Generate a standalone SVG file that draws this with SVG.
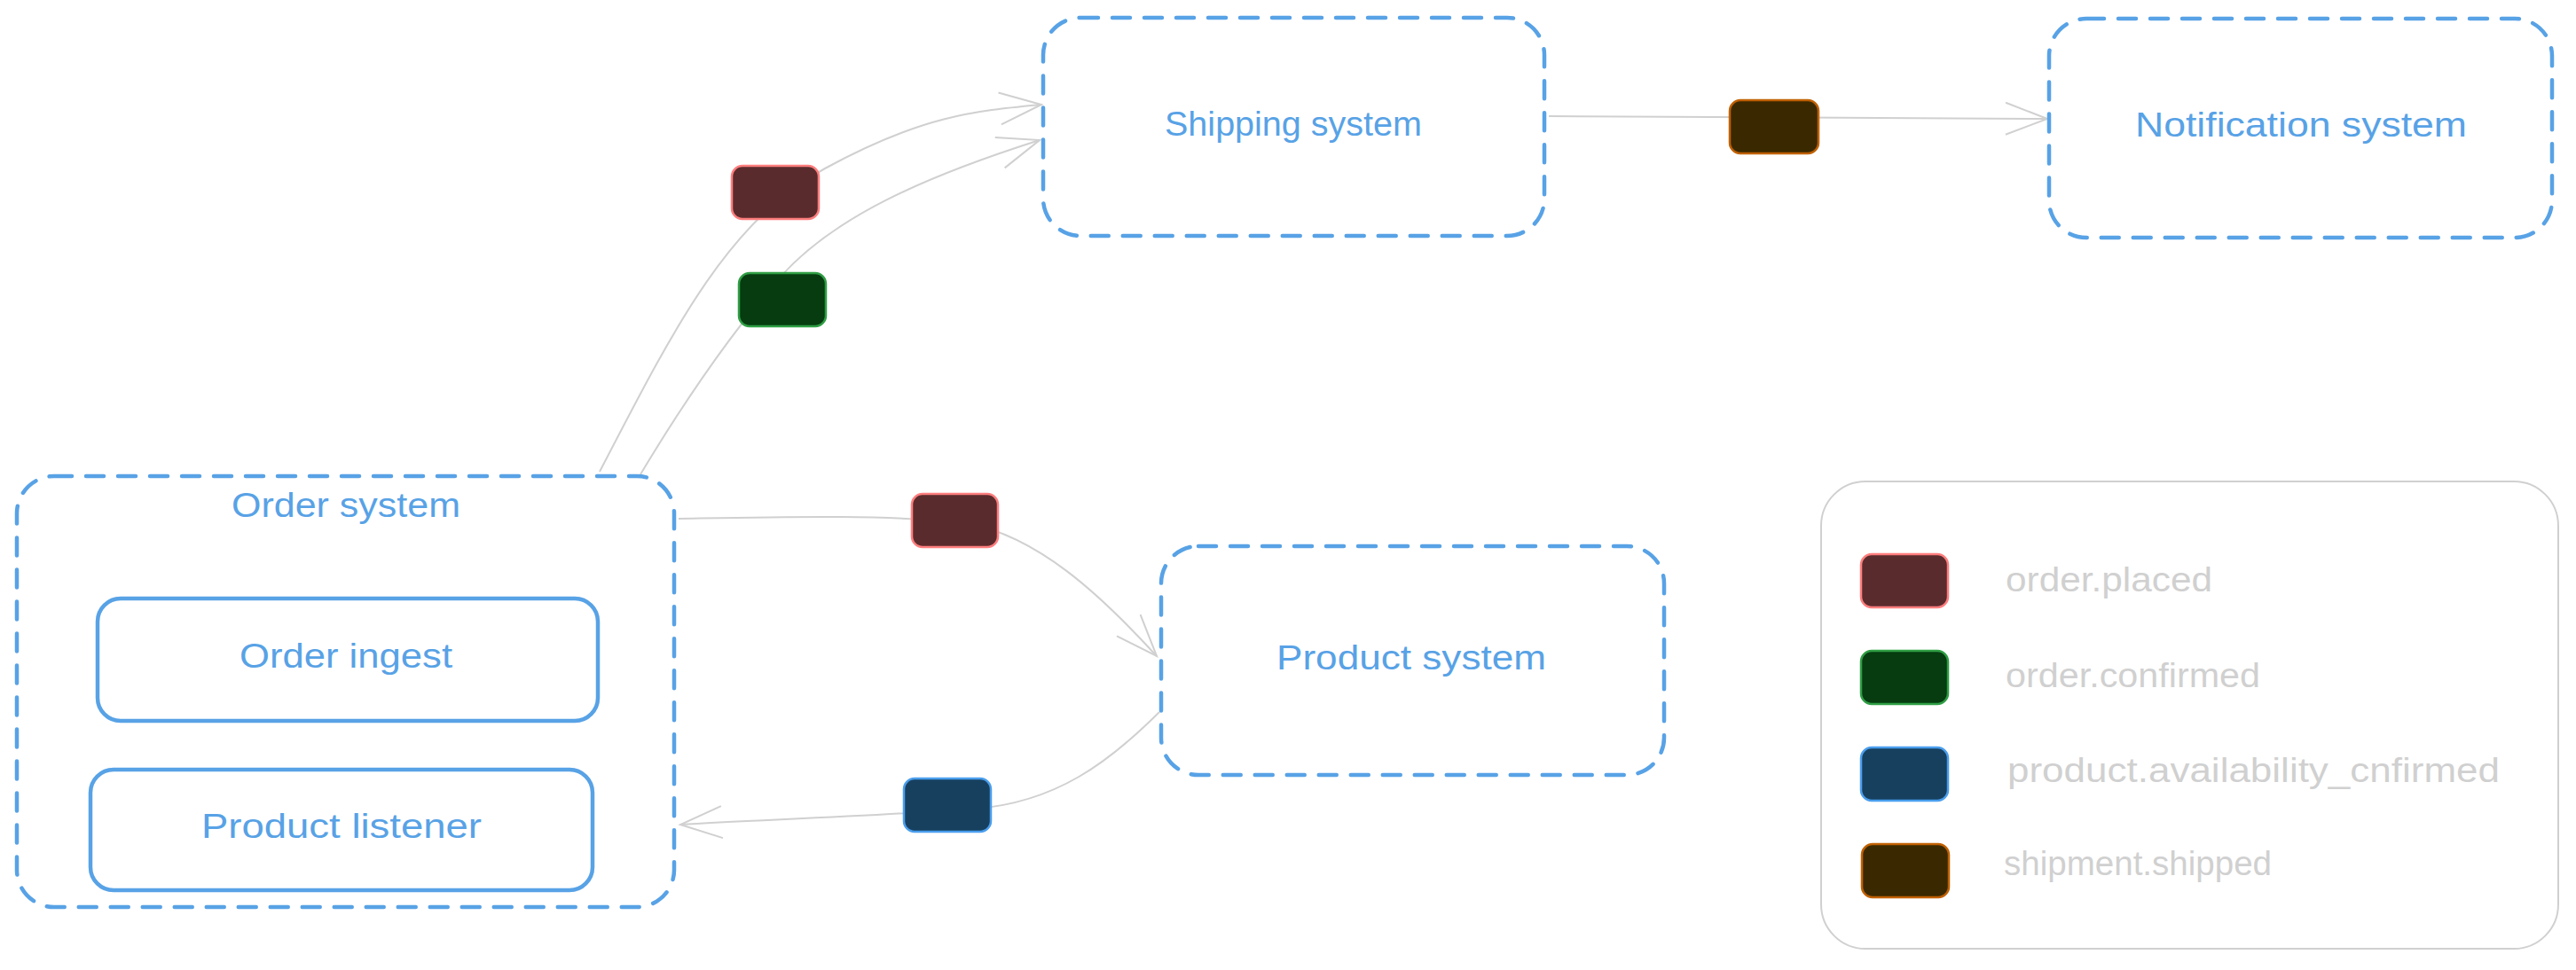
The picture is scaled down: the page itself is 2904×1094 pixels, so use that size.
<svg xmlns="http://www.w3.org/2000/svg" width="2904" height="1094" viewBox="0 0 2904 1094">
<defs>
<style>
.sys{fill:none;stroke:#58a2e6;stroke-width:4.5;stroke-dasharray:20 16;stroke-linecap:round}
.sub{fill:none;stroke:#58a2e6;stroke-width:4.5}
.lbl{font-family:"Liberation Sans",Arial,sans-serif;font-size:38px;fill:#58a2e6;text-anchor:middle}
.leg{font-family:"Liberation Sans",Arial,sans-serif;font-size:38px;fill:#d0d0d0}
.con{fill:none;stroke:#d0d0d0;stroke-width:2;marker-end:url(#arr)}
.placed{fill:#5a2b2c;stroke:#ff7e7e;stroke-width:2.5}
.confirmed{fill:#063c10;stroke:#2f9e44;stroke-width:2.5}
.avail{fill:#17405f;stroke:#4a9eed;stroke-width:2.5}
.shipped{fill:#3a2900;stroke:#c06000;stroke-width:2.5}
</style>
<marker id="arr" markerUnits="userSpaceOnUse" markerWidth="60" markerHeight="50" viewBox="-55 -25 60 50" refX="0" refY="0" orient="auto" overflow="visible">
<path d="M-47,-18 L0,0 L-47,18" fill="none" stroke="#d0d0d0" stroke-width="2"/>
</marker>
</defs>
<rect width="2904" height="1094" fill="#ffffff"/>

<g id="connectors">
<path class="con" d="M676,532 C760,370 820,250 930,190 S1100,125 1174,118"/>
<path class="con" d="M722,535 C770,455 820,380 880,312 C940,245 1040,200 1172,158"/>
<path class="con" d="M765,585 C880,583 1000,580 1090,590 C1170,605 1240,670 1304,740"/>
<path class="con" d="M1307,803 C1250,860 1190,905 1100,912 C1000,920 850,925 767,930"/>
<path class="con" d="M1746,131 L2308,134"/>
</g>

<g id="order-system">
<rect class="sys" x="19" y="537" width="741" height="486" rx="42"/>
<text class="lbl" x="390" y="583" textLength="258" lengthAdjust="spacingAndGlyphs">Order system</text>
</g>
<g id="order-ingest">
<rect class="sub" x="110" y="675" width="564" height="138" rx="26"/>
<text class="lbl" x="390" y="753" textLength="240" lengthAdjust="spacingAndGlyphs">Order ingest</text>
</g>
<g id="product-listener">
<rect class="sub" x="102" y="868" width="566" height="136" rx="26"/>
<text class="lbl" x="385" y="945" textLength="316" lengthAdjust="spacingAndGlyphs">Product listener</text>
</g>
<g id="shipping-system">
<rect class="sys" x="1176" y="20" width="565" height="246" rx="42"/>
<text class="lbl" x="1458" y="153" textLength="290" lengthAdjust="spacingAndGlyphs">Shipping system</text>
</g>
<g id="notification-system">
<rect class="sys" x="2310" y="21" width="567" height="247" rx="42"/>
<text class="lbl" x="2594" y="154" textLength="374" lengthAdjust="spacingAndGlyphs">Notification system</text>
</g>
<g id="product-system">
<rect class="sys" x="1309" y="616" width="567" height="258" rx="42"/>
<text class="lbl" x="1591" y="755" textLength="304" lengthAdjust="spacingAndGlyphs">Product system</text>
</g>

<g id="event-placed-1"><rect class="placed" x="825" y="187" width="98" height="60" rx="12"/></g>
<g id="event-confirmed-1"><rect class="confirmed" x="833" y="308" width="98" height="60" rx="12"/></g>
<g id="event-placed-2"><rect class="placed" x="1028" y="557" width="97" height="60" rx="12"/></g>
<g id="event-avail-1"><rect class="avail" x="1019" y="878" width="98" height="60" rx="12"/></g>
<g id="event-shipped-1"><rect class="shipped" x="1950" y="113" width="100" height="60" rx="12"/></g>

<g id="legend">
<rect x="2053" y="543" width="831" height="527" rx="50" fill="none" stroke="#d0d0d0" stroke-width="2"/>
<rect class="placed" x="2098" y="625" width="98" height="60" rx="12"/>
<text class="leg" x="2261" y="667" textLength="233" lengthAdjust="spacingAndGlyphs">order.placed</text>
<rect class="confirmed" x="2098" y="734" width="98" height="60" rx="12"/>
<text class="leg" x="2261" y="775" textLength="287" lengthAdjust="spacingAndGlyphs">order.confirmed</text>
<rect class="avail" x="2098" y="843" width="98" height="60" rx="12"/>
<text class="leg" x="2263" y="882" textLength="555" lengthAdjust="spacingAndGlyphs">product.availability_cnfirmed</text>
<rect class="shipped" x="2099" y="952" width="98" height="60" rx="12"/>
<text class="leg" x="2259" y="987" textLength="302" lengthAdjust="spacingAndGlyphs">shipment.shipped</text>
</g>
</svg>
